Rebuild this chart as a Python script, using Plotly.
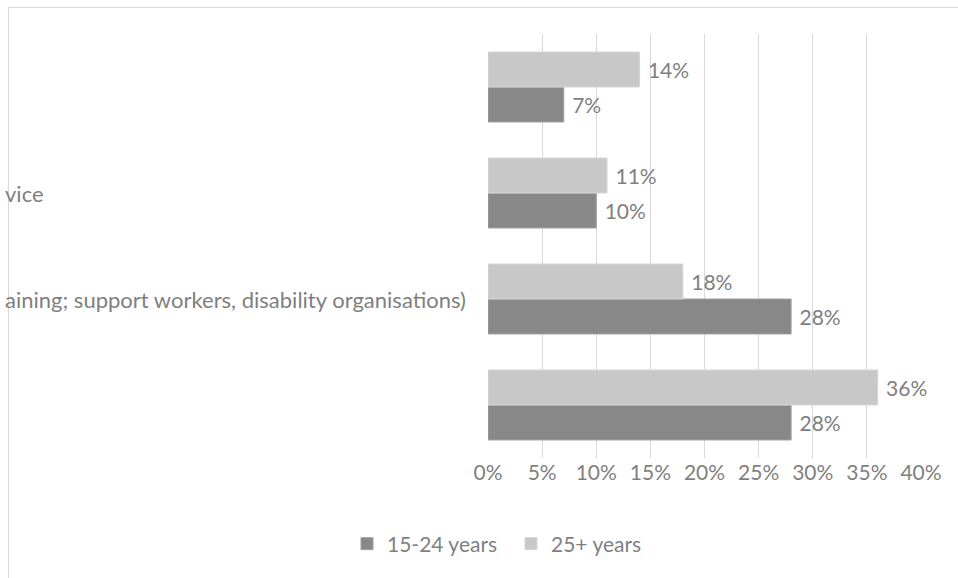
import plotly.graph_objects as go

# Categories listed bottom-to-top (as they appear in the chart from bottom up)
categories = ["cat1", "cat2", "cat3", "cat4"]
category_labels = ["", "aining; support workers, disability organisations)", "vice", ""]
young = [28, 28, 10, 7]     # 15-24 years
older = [36, 18, 11, 14]    # 25+ years
x_ticks = [0, 5, 10, 15, 20, 25, 30, 35, 40]
x_tick_labels = [f"{t}%" for t in x_ticks]

W, H = 958, 578
L, R, T, B = 488, 37, 34, 120
pw = W - L - R
ph = H - T - B

def px_x(p):
    return (p - L) / pw

def px_y(p):
    return (H - B - p) / ph

FONT = "Lato"
GRAY = "#7f7f7f"

fig = go.Figure()
fig.add_trace(go.Bar(
    y=categories, x=young, orientation="h", name="15-24 years",
    marker=dict(color="#888888", line=dict(color="#a0a0a0", width=1)),
    text=[f" {v}%" for v in young], textposition="outside",
    textfont=dict(family=FONT, size=21, color=GRAY), cliponaxis=False,
))
fig.add_trace(go.Bar(
    y=categories, x=older, orientation="h", name="25+ years",
    marker=dict(color="#c8c8c8", line=dict(color="#d6d6d6", width=1)),
    text=[f" {v}%" for v in older], textposition="outside",
    textfont=dict(family=FONT, size=21, color=GRAY), cliponaxis=False,
))

annotations = []
for c, lab in zip(categories, category_labels):
    if lab:
        annotations.append(dict(
            x=px_x(3), xref="paper", xanchor="left", y=c, yref="y",
            text=lab, showarrow=False,
            font=dict(family=FONT, size=22, color=GRAY),
        ))

shapes = [
    dict(type="line", xref="paper", yref="paper", x0=px_x(8), x1=px_x(958),
         y0=px_y(7.5), y1=px_y(7.5), line=dict(color="#d9d9d9", width=1)),
    # mask to clip label text left of border
    dict(type="rect", xref="paper", yref="paper", x0=px_x(-20), x1=px_x(8),
         y0=px_y(0), y1=px_y(578), fillcolor="white", line=dict(width=0),
         layer="above"),
    dict(type="line", xref="paper", yref="paper", x0=px_x(8.5), x1=px_x(8.5),
         y0=px_y(7), y1=px_y(578), line=dict(color="#d9d9d9", width=1),
         layer="above"),
]

fig.update_layout(
    width=W, height=H,
    margin=dict(l=L, r=R, t=T, b=B, pad=0),
    paper_bgcolor="white", plot_bgcolor="white",
    barmode="group", bargap=0.34, bargroupgap=0,
    font=dict(family=FONT, size=21, color=GRAY),
    xaxis=dict(range=[0, 40], tickvals=x_ticks, ticktext=x_tick_labels,
               showgrid=True, gridcolor="#d9d9d9", gridwidth=1,
               zeroline=False, showline=False, ticks="", ticklen=0,
               tickfont=dict(family=FONT, size=21, color=GRAY), fixedrange=True),
    yaxis=dict(categoryorder="array", categoryarray=categories,
               showticklabels=False, showgrid=False, zeroline=False,
               showline=False, ticks="", range=[-0.5, 3.5]),
    legend=dict(orientation="h", x=px_x(347), xanchor="left",
                y=px_y(544), yanchor="middle",
                font=dict(family=FONT, size=21, color=GRAY),
                itemwidth=30, entrywidth=119, traceorder="normal"),
    annotations=annotations,
    shapes=shapes,
    showlegend=True,
)

fig.write_html(
    "out.html",
    config={"displayModeBar": False},
    post_script="document.body.style.margin='0';document.body.style.overflow='hidden';",
)
